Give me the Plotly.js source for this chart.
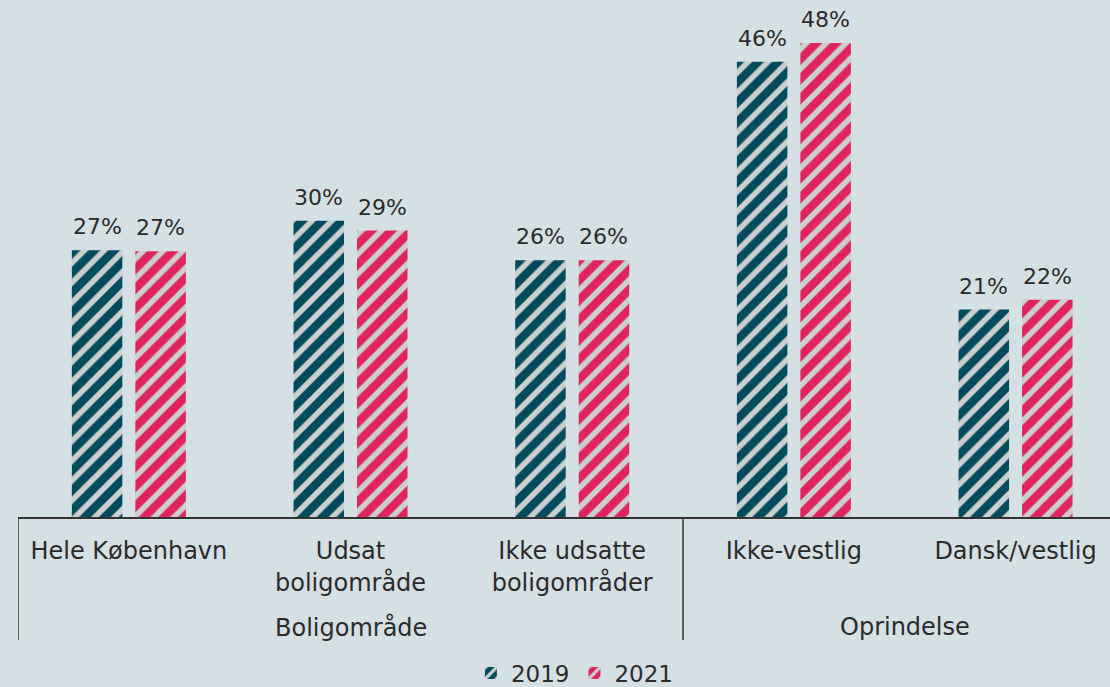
<!DOCTYPE html>
<html>
<head>
<meta charset="utf-8">
<script src="https://cdn.plot.ly/plotly-3.0.1.min.js"></script>
<style>html,body{margin:0;padding:0;background:#d5e0e4;}#chart{width:1110px;height:687px;}</style>
</head>
<body>
<div id="chart"></div>
<script>
const groups = ["Boligområde", "Boligområde", "Boligområde", "Oprindelse", "Oprindelse"];
const categories = ["Hele København", "Udsat<br>boligområde", "Ikke udsatte<br>boligområder", "Ikke-vestlig", "Dansk/vestlig"];
const seriesNames = ["2019", "2021"];
const values2019 = [27.0, 30.0, 26.0, 46.1, 21.0];
const values2021 = [26.9, 29.0, 26.0, 48.0, 22.0];
const labels2019 = ["27%", "30%", "26%", "46%", "21%"];
const labels2021 = ["27%", "29%", "26%", "48%", "22%"];

const font = "DejaVu Sans, Verdana, sans-serif";
const txtColor = "#2b2b2b";
const lineColor = "#333333";
const colors = ["#014b5d", "#e0245e"];
const bargap = 0.427, bargroupgap = 0.205;

function pat(c) {
  return {shape: "/", fgcolor: "#cbcfd0", bgcolor: c, size: 14, solidity: 0.4, fillmode: "replace", fgopacity: 1};
}

function barTrace(name, vals, color) {
  return {
    type: "bar", name: name,
    x: categories, y: vals,
    marker: {color: color, line: {width: 0}, pattern: pat(color)},
    hoverinfo: "skip"
  };
}

const traces = [
  barTrace(seriesNames[0], values2019, colors[0]),
  barTrace(seriesNames[1], values2021, colors[1])
];

// value labels placed over each bar centre (slot offset derived from bargap)
const slot = (1 - bargap) / 2;
const labelAnns = [];
[[values2019, labels2019], [values2021, labels2021]].forEach(([vals, labs], t) => {
  vals.forEach((v, j) => {
    labelAnns.push({
      text: labs[j], xref: "x", yref: "y",
      x: j + (t - 0.5) * slot, y: v, yanchor: "bottom", yshift: 9,
      showarrow: false, font: {family: font, size: 22, color: txtColor}
    });
  });
});

// group spans derived from the groups array
const spans = [];
groups.forEach((g, i) => {
  if (!spans.length || spans[spans.length - 1].name !== g) spans.push({name: g, start: i, end: i});
  else spans[spans.length - 1].end = i;
});

const plotH = 517;
const shapes = spans.map(s => ({
  type: "line", xref: "x", yref: "paper",
  x0: s.start - 0.5, x1: s.start - 0.5, y0: 0, y1: -(640 - plotH) / plotH,
  line: {color: lineColor, width: 1.5}
}));
const groupAnns = spans.map(s => ({
  text: s.name, xref: "x", yref: "paper",
  x: (s.start + s.end) / 2, y: -(627 - plotH) / plotH, yanchor: "middle",
  showarrow: false, font: {family: font, size: 24, color: txtColor}
}));

const layout = {
  width: 1110, height: 687, autosize: false,
  margin: {l: 18, r: 0, t: 0, b: 170, autoexpand: false},
  paper_bgcolor: "#d5e0e4", plot_bgcolor: "#d5e0e4",
  font: {family: font, size: 23, color: txtColor},
  barmode: "group", bargap: bargap, bargroupgap: bargroupgap,
  showlegend: true,
  legend: {orientation: "h", x: 0.51, xanchor: "center",
           y: -0.302, yanchor: "middle", font: {family: font, size: 23, color: txtColor},
           traceorder: "normal", itemwidth: 30},
  xaxis: {
    type: "category", range: [-0.5, 4.426], automargin: false,
    showline: true, linecolor: lineColor, linewidth: 1.5,
    ticks: "", tickangle: 0, ticklabelstandoff: 12,
    tickfont: {family: font, size: 24, color: txtColor},
    showgrid: false, zeroline: false
  },
  yaxis: {range: [0, 52.35], showticklabels: false, showgrid: false, zeroline: false, showline: false, ticks: "", automargin: false},
  shapes: shapes,
  annotations: labelAnns.concat(groupAnns)
};

Plotly.newPlot("chart", traces, layout, {displayModeBar: false, staticPlot: true});
</script>
</body>
</html>
